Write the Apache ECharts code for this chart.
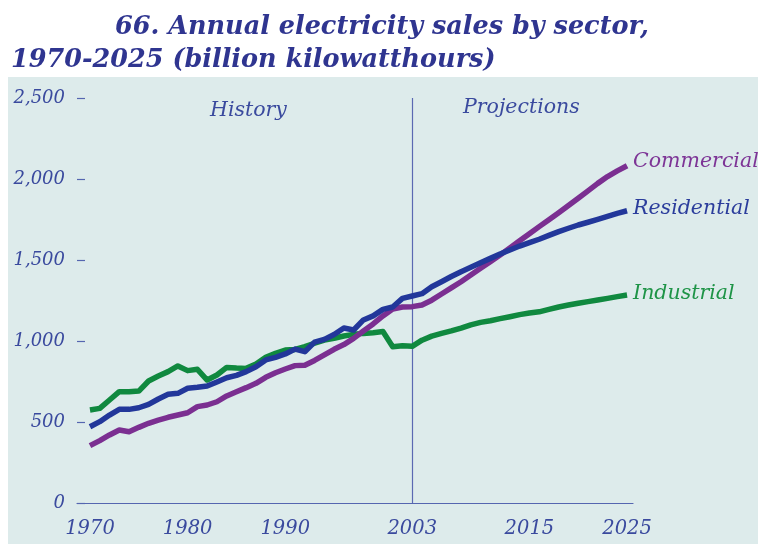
<!DOCTYPE html>
<html>
<head>
<meta charset="utf-8">
<script src="https://cdn.jsdelivr.net/npm/echarts@6/dist/echarts.min.js"></script>
<style>
html,body{margin:0;padding:0;background:#ffffff;}
#chart{width:758px;height:544px;}
</style>
</head>
<body>
<div id="chart"></div>
<script>
const years = [1970,1971,1972,1973,1974,1975,1976,1977,1978,1979,
  1980,1981,1982,1983,1984,1985,1986,1987,1988,1989,
  1990,1991,1992,1993,1994,1995,1996,1997,1998,1999,
  2000,2001,2002,2003,2004,2005,2006,2007,2008,2009,
  2010,2011,2012,2013,2014,2015,2016,2017,2018,2019,
  2020,2021,2022,2023,2024,2025];

const commercial = [354,385,420,451,440,467,492,512,529,543,
  557,595,605,625,661,687,712,739,776,804,
  827,848,850,880,914,949,978,1016,1062,1105,
  1155,1197,1210,1212,1222,1252,1290,1328,1366,1407,
  1449,1490,1531,1575,1619,1662,1706,1749,1792,1836,
  1881,1927,1973,2015,2050,2082];

const residential = [471,502,543,578,578,588,609,642,671,677,
  708,714,722,747,773,788,811,841,883,899,
  920,950,934,993,1010,1040,1080,1068,1130,1155,
  1195,1210,1263,1278,1292,1335,1366,1398,1428,1455,
  1483,1510,1537,1562,1586,1607,1628,1652,1675,1696,
  1716,1733,1751,1770,1788,1804];

const industrial = [574,584,636,687,687,691,753,784,811,846,
  817,825,759,790,837,833,831,858,899,924,
  944,948,965,986,1006,1017,1031,1041,1047,1051,
  1058,965,971,967,1005,1030,1047,1062,1080,1100,
  1115,1125,1138,1150,1163,1173,1180,1195,1210,1222,
  1233,1243,1253,1263,1274,1284];

const xTickLabels = [1970,1980,1990,2003,2015,2025];
const splitYear = 2003;

const titleLine1 = '66. Annual electricity sales by sector,';
const titleLine2 = '1970-2025 (billion kilowatthours)';

const navy = '#2f3590';
const axisBlue = '#3a4a9e';
const serif = '"DejaVu Serif", "Liberation Serif", serif';

function pairs(vals){ return years.map((y,i)=>[y, vals[i]]); }

const chart = echarts.init(document.getElementById('chart'), null, {renderer:'canvas'});

function mkSeries(name, vals, color, labelColor, offY){
  return {
    name: name,
    type: 'line',
    data: pairs(vals),
    showSymbol: false,
    symbol: 'none',
    smooth: false,
    lineStyle: {color: color, width: 5.5, cap: 'butt', join: 'round'},
    itemStyle: {color: color},
    emphasis: {disabled: true},
    endLabel: {
      show: true,
      formatter: '{a}',
      color: labelColor,
      fontFamily: serif,
      fontStyle: 'italic',
      fontSize: 20.5,
      distance: 6,
      offset: [0, offY]
    },
    z: 3
  };
}

const series = [
  mkSeries('Industrial', industrial, '#10893f', '#1e9447', -1),
  mkSeries('Commercial', commercial, '#7b2f91', '#7d3596', -4),
  mkSeries('Residential', residential, '#22379a', '#2b3d9c', -2)
];
series[0].markLine = {
  silent: true,
  symbol: ['none','none'],
  label: {show: false},
  lineStyle: {color: '#5b69b2', width: 1.2, type: 'solid'},
  data: [{xAxis: splitYear}],
  z: 1
};

chart.setOption({
  animation: false,
  backgroundColor: '#ffffff',
  grid: {left: 77, right: 125, top: 98, bottom: 41, containLabel: false},
  xAxis: {
    type: 'value',
    min: 1968.67,
    max: 2025.61,
    axisLine: {show: true, lineStyle: {color: '#5566b0', width: 1.2}},
    axisTick: {show: false},
    splitLine: {show: false},
    axisLabel: {
      customValues: xTickLabels,
      formatter: v => String(v),
      color: axisBlue,
      fontFamily: serif,
      fontStyle: 'italic',
      fontSize: 19.5,
      margin: 16
    }
  },
  yAxis: {
    type: 'value',
    min: 0,
    max: 2500,
    interval: 500,
    axisLine: {show: false},
    axisTick: {show: true, inside: true, length: 8, lineStyle: {color: '#5566b0', width: 1.2}},
    splitLine: {show: false},
    axisLabel: {
      formatter: v => v.toLocaleString('en-US'),
      color: axisBlue,
      fontFamily: serif,
      fontStyle: 'italic',
      fontSize: 18,
      margin: 12
    }
  },
  graphic: [
    {type:'rect', left: 8, top: 77, shape:{width:750, height:467}, style:{fill:'#ddebeb'}, z:-100, silent:true},
    {type:'text', left: 115, top: 14, style:{text: titleLine1, fill: navy, font: 'bold italic 25.5px ' + serif}, z: 10},
    {type:'text', left: 11, top: 47, style:{text: titleLine2, fill: navy, font: 'bold italic 25.5px ' + serif}, z: 10},
    {type:'text', left: 210, top: 101, style:{text: 'History', fill: axisBlue, font: 'italic 20.5px ' + serif}, z: 10},
    {type:'text', left: 463, top: 98, style:{text: 'Projections', fill: axisBlue, font: 'italic 20.5px ' + serif}, z: 10}
  ],
  series: series
});
</script>
</body>
</html>
